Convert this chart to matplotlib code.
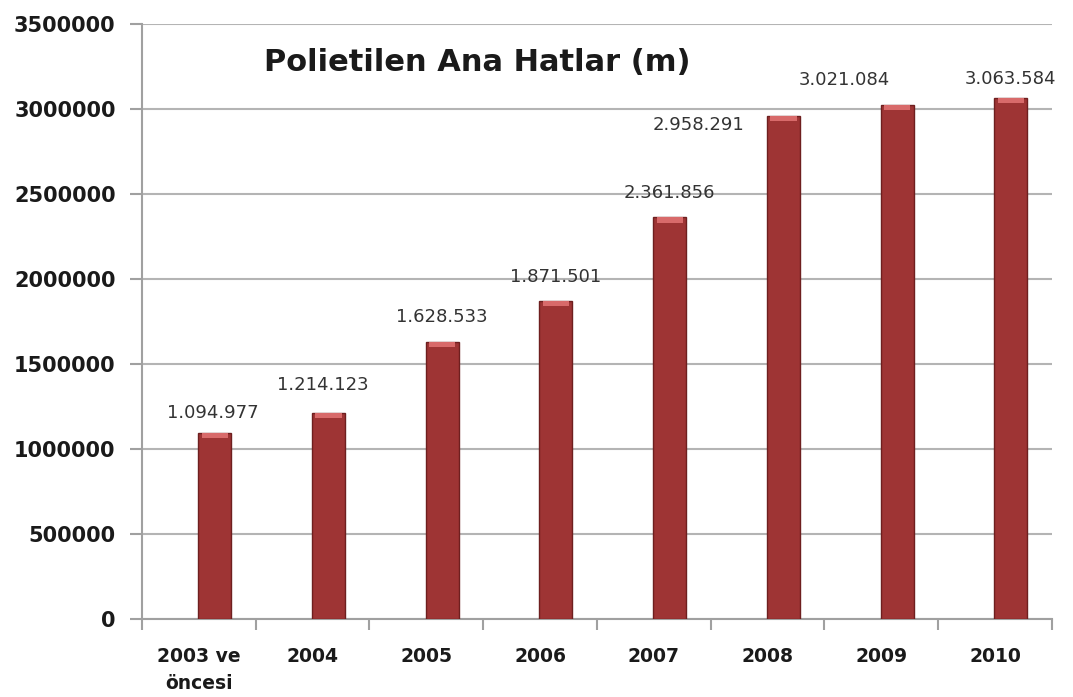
import matplotlib
matplotlib.use("Agg")
import matplotlib.pyplot as plt
import numpy as np

categories = ["2003 ve\nöncesi", "2004", "2005", "2006", "2007", "2008", "2009", "2010"]
values = [1094977, 1214123, 1628533, 1871501, 2361856, 2958291, 3021084, 3063584]
value_labels = ["1.094.977", "1.214.123", "1.628.533", "1.871.501",
                "2.361.856", "2.958.291", "3.021.084", "3.063.584"]
yticks = [0, 500000, 1000000, 1500000, 2000000, 2500000, 3000000, 3500000]
title = "Polietilen Ana Hatlar (m)"

# label offsets in pixels (dx, dy) relative to bar top centre
label_offsets = [(-2, 20), (-6, 28), (0, 25), (0, 24), (0, 24), (-85, -9), (-53, 25), (0, 19)]

fig = plt.figure(figsize=(10.73, 6.97), dpi=100)
ax = fig.add_axes([0.1323, 0.1119, 0.848, 0.8537])

x = np.arange(len(categories))
bar_x = x + 0.14
ax.bar(bar_x, values, width=0.29, color="#9e3434", edgecolor="#6e1f1f", linewidth=1.0, zorder=3)
ax.bar(bar_x, [30000] * len(values), bottom=[v - 30000 for v in values], width=0.23,
       color="#d86a6a", linewidth=0, zorder=4)

ax.set_xlim(-0.5, 7.5)
ax.set_ylim(0, 3500000)
ax.set_yticks(yticks)
ax.set_yticklabels([str(t) for t in yticks], fontsize=15, fontweight="bold", color="#1a1a1a")
ax.set_xticks(x)
ax.set_xticklabels(categories, fontsize=13.5, fontweight="bold", color="#1a1a1a", linespacing=1.55)
ax.set_xticks(np.arange(-0.5, 8.0, 1.0), minor=True)
ax.tick_params(axis="x", which="major", length=0, pad=20)
ax.tick_params(axis="x", which="minor", length=8, width=1.5, color="#a0a0a0")
ax.tick_params(axis="y", length=9, width=1.5, color="#a0a0a0", pad=10)

ax.grid(axis="y", color="#b4b4b4", linewidth=1.5, zorder=0)
for s in ["top", "right"]:
    ax.spines[s].set_visible(False)
for s in ["left", "bottom"]:
    ax.spines[s].set_color("#a0a0a0")
    ax.spines[s].set_linewidth(1.5)

for xi, v, lab, (dx, dy) in zip(bar_x, values, value_labels, label_offsets):
    ax.annotate(lab, (xi, v), xytext=(dx, dy), textcoords="offset pixels",
                ha="center", va="center", fontsize=13, color="#333333", zorder=5)

ax.text(0.368, 0.936, title, transform=ax.transAxes, ha="center", va="center",
        fontsize=22, fontweight="bold", color="#1a1a1a")

fig.savefig("out.png", dpi=100)
